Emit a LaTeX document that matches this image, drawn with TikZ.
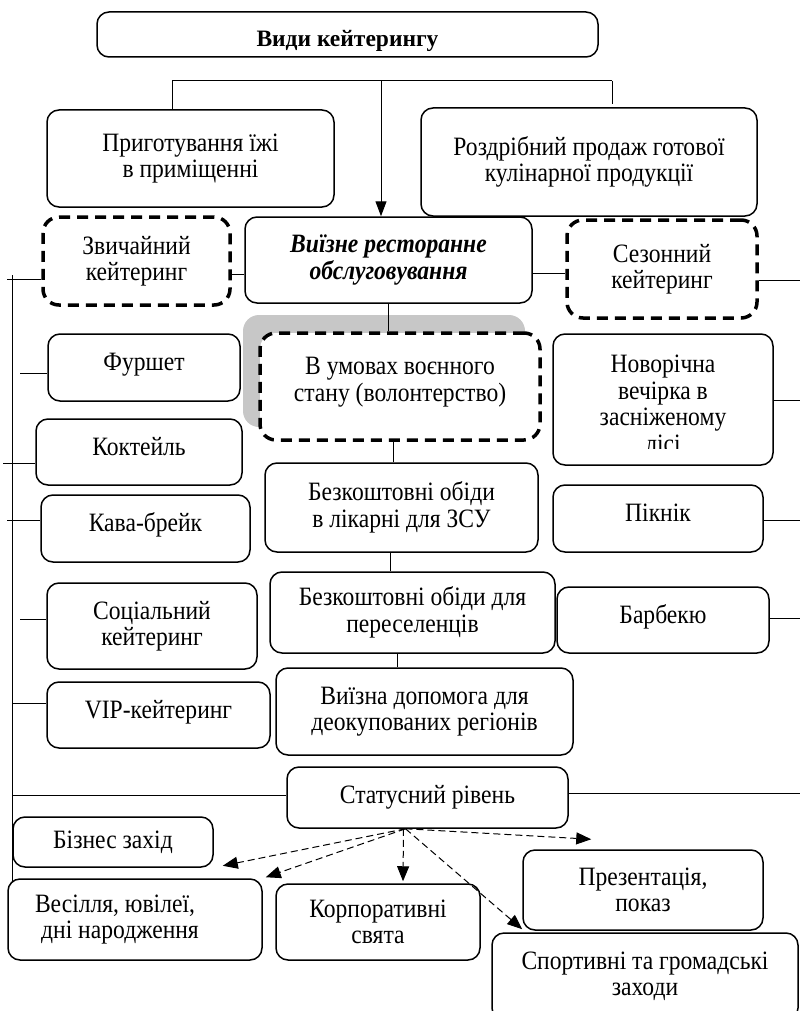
\documentclass[tikz,border=0pt]{standalone}
\usepackage{fontspec}
\setmainfont{Liberation Serif}[FakeStretch=0.89]
\newfontfamily\titlefont{Liberation Serif}
\usetikzlibrary{arrows.meta}
\newcommand\mybox[7]{\node[#6, minimum width={(#4)-(#2)}, minimum height={(#5)-(#3)}] (#1) at ({((#2)+(#4))/2},{((#3)+(#5))/2}) {#7};}
\begin{document}
\begin{tikzpicture}[x=1pt,y=-1pt,
  every node/.style={font=\fontsize{26.5}{26.5}\selectfont},
  box/.style={draw, line width=1.5pt, rounded corners=12pt, align=center, inner sep=0pt, fill=white},
  dbox/.style={box, line width=3.5pt, dash pattern=on 11pt off 7pt, rounded corners=16pt},
  single/.style={text height=19pt, text depth=12.5pt},
  conn/.style={line width=1pt},
  arr/.style={conn, -{Triangle[length=15pt,width=11pt]}},
  darr/.style={line width=1pt, dash pattern=on 7pt off 4pt, -{Triangle[length=15pt,width=12pt]}}
]
\useasboundingbox (0,0) rectangle (800,1011);

% top
\mybox{title}{97}{12}{598}{57}{box, text height=30pt, text depth=5pt}{\titlefont\fontsize{23.5}{25}\selectfont\bfseries Види кейтерингу}
\mybox{prig}{47}{110}{334}{207}{box}{Приготування їжі\\в приміщенні}
\mybox{rozd}{421}{108}{757}{216}{box}{Роздрібний продаж готової\\кулінарної продукції}

% second row
\mybox{zv}{43}{217}{230}{305}{dbox}{Звичайний\\кейтеринг}
\mybox{vyizne}{245}{217}{532}{303}{box}{\bfseries\itshape Виїзне ресторанне\\\bfseries\itshape обслуговування}
\mybox{sez}{567}{220}{757}{318}{dbox}{Сезонний\\кейтеринг}

% middle column
\fill[black!22, rounded corners=16pt] (243,315) rectangle (525,427);
\mybox{umov}{260}{333}{540}{440}{dbox, text depth=14pt}{В умовах воєнного\\стану (волонтерство)}
\mybox{likar}{265}{463}{538}{552}{box}{Безкоштовні обіди\\в лікарні для ЗСУ}
\mybox{peres}{270}{572}{555}{653}{box}{Безкоштовні обіди для\\переселенців}
\mybox{vyizna}{276}{668}{573}{755}{box}{Виїзна допомога для\\деокупованих регіонів}
\mybox{stat}{287}{767}{568}{828}{box}{Статусний рівень}

% left column
\mybox{furs}{48}{334}{240}{401}{box, single}{Фуршет}
\mybox{kokt}{36}{419}{242}{485}{box, single}{Коктейль}
\mybox{kava}{41}{495}{250}{562}{box, single}{Кава-брейк}
\mybox{soc}{47}{583}{257}{669}{box}{Соціальний\\кейтеринг}
\mybox{vip}{47}{682}{270}{748}{box, single}{VIP-кейтеринг}

% right column
\mybox{nov}{553}{334}{773}{465}{box}{}
\begin{scope}
\clip (553,336) rectangle (773,448);
\node[align=center] (novt) at (663,404) {Новорічна\\вечірка в\\засніженому\\лісі};
\end{scope}
\mybox{pikn}{553}{485}{763}{552}{box, single}{Пікнік}
\mybox{barb}{557}{587}{769}{653}{box, single}{Барбекю}

% bottom
\mybox{biz}{13}{817}{213}{867}{box}{Бізнес захід}
\mybox{ves}{8}{879}{262}{960}{box}{Весілля, ювілеї,\hspace*{40pt}\\дні народження\hspace*{30pt}}
\mybox{korp}{276}{884}{480}{960}{box}{Корпоративні\\свята}
\mybox{prez}{523}{850}{763}{930}{box}{Презентація,\\показ}
\mybox{sport}{492}{933}{798}{1020}{box}{Спортивні та громадські\\заходи}

% top connectors
\coordinate (H1) at (172,81);
\coordinate (H2) at (612,81);
\coordinate (H3) at (612,104);
\coordinate (HA) at (381,81);
\draw[conn] (H1) -- (H2);
\draw[conn] (H1) -- (H1 |- prig.north);
\draw[conn] (H2) -- (H3);
\draw[arr] (HA) -- (HA |- vyizne.north);

% second row connectors
\coordinate (C1) at (0,274);
\draw[conn] (C1 -| zv.east) -- (C1 -| vyizne.west);
\coordinate (C2) at (0,273);
\draw[conn] (C2 -| vyizne.east) -- (C2 -| sez.west);

% middle column connectors
\draw[conn] (vyizne.south) -- (vyizne.south |- umov.north);
\coordinate (M1) at (393,0);
\draw[conn] (M1 |- umov.south) -- (M1 |- likar.north);
\coordinate (M2) at (390,0);
\draw[conn] (M2 |- likar.south) -- (M2 |- peres.north);
\coordinate (M3) at (397,0);
\draw[conn] (M3 |- peres.south) -- (M3 |- vyizna.north);

% left bus
\coordinate (Ltop) at (12,275);
\coordinate (Lbot) at (12,882);
\draw[conn] (Ltop) -- (Lbot);
\coordinate (L1) at (7,279);
\coordinate (L2) at (20,373);
\coordinate (L3) at (3,463);
\coordinate (L4) at (7,520);
\coordinate (L5) at (20,619);
\coordinate (L6) at (12,703);
\coordinate (L7) at (12,795);
\draw[conn] (L1) -- (L1 -| zv.west);
\draw[conn] (L2) -- (L2 -| furs.west);
\draw[conn] (L3) -- (L3 -| kokt.west);
\draw[conn] (L4) -- (L4 -| kava.west);
\draw[conn] (L5) -- (L5 -| soc.west);
\draw[conn] (L6) -- (L6 -| vip.west);
\draw[conn] (L7) -- (L7 -| stat.west);

% right lines
\coordinate (R1) at (800,280);
\coordinate (R2) at (800,400);
\coordinate (R3) at (800,520);
\coordinate (R4) at (800,618);
\coordinate (R5) at (800,793);
\draw[conn] (R1 -| sez.east) -- (R1);
\draw[conn] (R2 -| nov.east) -- (R2);
\draw[conn] (R3 -| pikn.east) -- (R3);
\draw[conn] (R4 -| barb.east) -- (R4);
\draw[conn] (R5 -| stat.east) -- (R5);

% dashed arrows
\coordinate (S0) at ([xshift=-22pt]stat.south);
\draw[darr] (S0) -- ([xshift=9pt,yshift=2pt]biz.south east);
\draw[darr] (S0) -- ([xshift=3pt,yshift=1pt]ves.north east);
\draw[darr] ([xshift=-2pt]S0) -- ([xshift=25pt,yshift=2pt]korp.north);
\draw[darr] (S0) -- ([xshift=69pt,yshift=10pt]prez.north west);
\draw[darr] (S0) -- ([xshift=31pt,yshift=3pt]sport.north west);
\end{tikzpicture}
\end{document}
